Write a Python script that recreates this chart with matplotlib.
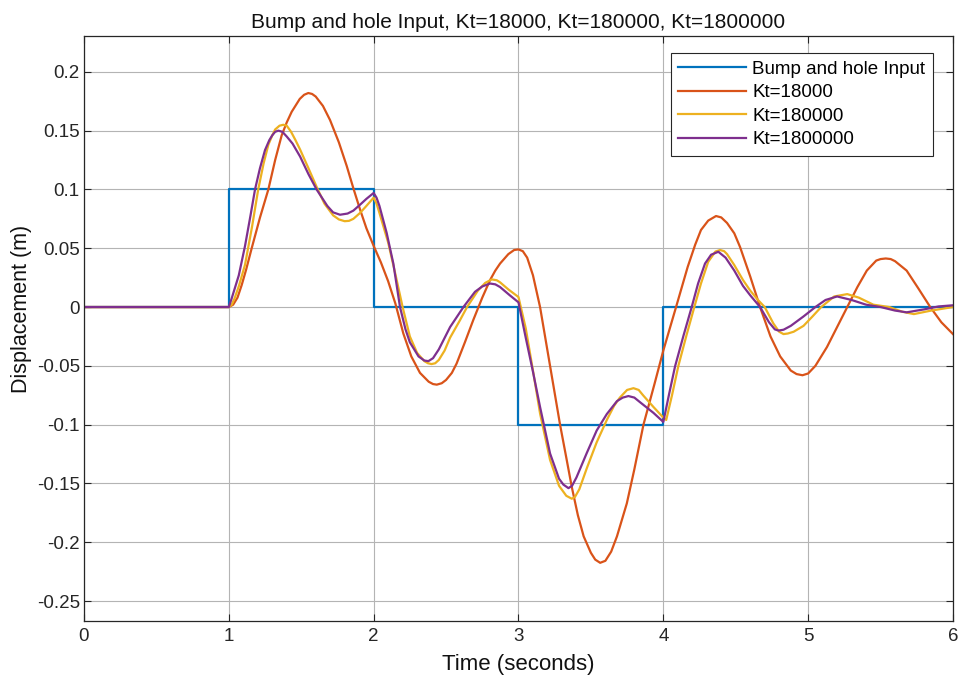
import matplotlib
matplotlib.use("Agg")
import matplotlib.pyplot as plt
from matplotlib.ticker import FuncFormatter

plt.rcParams['font.family'] = ['Liberation Sans', 'DejaVu Sans']
plt.rcParams['axes.unicode_minus'] = False

# bump and hole input
t_in = [0, 1, 1, 2, 2, 3, 3, 4, 4, 6]
y_in = [0, 0, 0.1, 0.1, 0, 0, -0.1, -0.1, 0, 0]

# Kt=18000 response
t_18k = [0.0, 1.0, 1.03, 1.06, 1.089, 1.12, 1.158, 1.215, 1.273, 1.32, 1.365,
         1.40, 1.434, 1.49, 1.52, 1.549, 1.575, 1.60, 1.65, 1.699, 1.76, 1.814,
         1.86, 1.906, 1.95, 2.0, 2.05, 2.1, 2.15, 2.205, 2.26, 2.32, 2.38,
         2.41, 2.436, 2.47, 2.5, 2.54, 2.573, 2.63, 2.688, 2.75, 2.804, 2.84,
         2.873, 2.93, 2.97, 3.0, 3.03, 3.06, 3.1, 3.149, 3.218, 3.287, 3.33,
         3.368, 3.41, 3.45, 3.5, 3.53, 3.564, 3.6, 3.64, 3.68, 3.748, 3.8,
         3.863, 3.94, 4.0, 4.088, 4.168, 4.22, 4.26, 4.31, 4.364, 4.40, 4.44,
         4.49, 4.53, 4.6, 4.668, 4.74, 4.807, 4.88, 4.92, 4.961, 5.0, 5.05,
         5.13, 5.2, 5.27, 5.34, 5.405, 5.47, 5.5, 5.536, 5.57, 5.6, 5.68,
         5.76, 5.843, 5.92, 6.0]
y_18k = [0.0, 0.0, 0.002, 0.008, 0.0187, 0.032, 0.05, 0.076, 0.1, 0.125, 0.146,
         0.157, 0.166, 0.177, 0.1805, 0.182, 0.1812, 0.179, 0.171, 0.159, 0.14, 0.12,
         0.101, 0.083, 0.067, 0.052, 0.038, 0.022, 0.003, -0.0225, -0.042, -0.056, -0.0635,
         -0.0655, -0.066, -0.0648, -0.062, -0.056, -0.048, -0.03, -0.011, 0.008, 0.023, 0.031,
         0.037, 0.045, 0.0485, 0.049, 0.0475, 0.042, 0.027, 0.0, -0.05, -0.1, -0.128,
         -0.153, -0.177, -0.195, -0.209, -0.2148, -0.2175, -0.2158, -0.208, -0.195, -0.167, -0.138,
         -0.1, -0.065, -0.037, 0.0, 0.034, 0.053, 0.0655, 0.0735, 0.0774, 0.0762, 0.0715,
         0.0627, 0.051, 0.026, 0.0, -0.025, -0.042, -0.054, -0.057, -0.058, -0.0565, -0.05,
         -0.034, -0.017, 0.0, 0.017, 0.031, 0.0395, 0.0408, 0.0413, 0.0408, 0.039, 0.031,
         0.016, 0.0, -0.013, -0.023]

# Kt=180000 response
t_180k = [0.0, 1.0, 1.02, 1.04, 1.07, 1.112, 1.16, 1.203, 1.24, 1.273, 1.30,
          1.32, 1.35, 1.376, 1.40, 1.43, 1.46, 1.492, 1.55, 1.607, 1.66, 1.72,
          1.76, 1.8, 1.83, 1.86, 1.906, 1.95, 2.0, 2.02, 2.04, 2.1, 2.15,
          2.2, 2.25, 2.3, 2.35, 2.375, 2.40, 2.425, 2.45, 2.49, 2.528, 2.597,
          2.645, 2.72, 2.77, 2.815, 2.85, 2.873, 2.93, 3.0, 3.05, 3.1, 3.149,
          3.218, 3.28, 3.33, 3.368, 3.39, 3.42, 3.472, 3.54, 3.61, 3.66, 3.7,
          3.75, 3.794, 3.83, 3.86, 3.932, 4.0, 4.02, 4.06, 4.104, 4.16, 4.214,
          4.26, 4.31, 4.36, 4.392, 4.42, 4.44, 4.49, 4.55, 4.6, 4.65, 4.70,
          4.76, 4.8, 4.83, 4.86, 4.9, 4.968, 5.03, 5.09, 5.18, 5.27, 5.35,
          5.45, 5.56, 5.65, 5.73, 5.85, 6.0]
y_180k = [0.0, 0.0, 0.002, 0.0074, 0.018, 0.036, 0.068, 0.1, 0.122, 0.138, 0.146,
          0.151, 0.1542, 0.155, 0.1542, 0.149, 0.142, 0.134, 0.118, 0.102, 0.088, 0.078,
          0.0745, 0.073, 0.0733, 0.075, 0.08, 0.086, 0.093, 0.088, 0.08, 0.055, 0.028,
          0.0, -0.025, -0.039, -0.046, -0.0478, -0.0485, -0.0478, -0.045, -0.037, -0.026, -0.011,
          0.0, 0.014, 0.0205, 0.0235, 0.0228, 0.021, 0.015, 0.0085, -0.018, -0.054, -0.0905,
          -0.13, -0.152, -0.1605, -0.163, -0.1615, -0.155, -0.137, -0.115, -0.096, -0.084, -0.077,
          -0.0705, -0.069, -0.0705, -0.075, -0.085, -0.094, -0.096, -0.075, -0.05, -0.024, 0.0,
          0.02, 0.0385, 0.0472, 0.0485, 0.0475, 0.045, 0.0357, 0.023, 0.014, 0.0065, 0.0,
          -0.014, -0.021, -0.023, -0.0225, -0.021, -0.016, -0.008, 0.0, 0.009, 0.011, 0.008,
          0.002, 0.0, -0.004, -0.006, -0.003, 0.0]

# Kt=1800000 response
t_1800k = [0.0, 1.0, 1.02, 1.069, 1.112, 1.15, 1.181, 1.215, 1.25, 1.28, 1.3,
           1.32, 1.342, 1.37, 1.40, 1.44, 1.492, 1.55, 1.607, 1.68, 1.72, 1.768,
           1.82, 1.86, 1.906, 1.95, 2.0, 2.02, 2.04, 2.09, 2.136, 2.182, 2.22,
           2.25, 2.31, 2.35, 2.378, 2.41, 2.45, 2.528, 2.62, 2.7, 2.75, 2.804,
           2.84, 2.873, 2.94, 3.0, 3.05, 3.1, 3.149, 3.218, 3.28, 3.31, 3.345,
           3.37, 3.4, 3.472, 3.54, 3.61, 3.68, 3.72, 3.759, 3.8, 3.84, 3.932,
           4.0, 4.04, 4.081, 4.14, 4.196, 4.24, 4.288, 4.33, 4.38, 4.43, 4.49,
           4.55, 4.6, 4.668, 4.73, 4.77, 4.795, 4.83, 4.88, 4.968, 5.05, 5.12,
           5.2, 5.3, 5.4, 5.5, 5.6, 5.68, 5.8, 5.9, 6.0]
y_1800k = [0.0, 0.0, 0.0074, 0.027, 0.052, 0.078, 0.1, 0.118, 0.1335, 0.142, 0.146,
           0.149, 0.15, 0.149, 0.145, 0.139, 0.128, 0.113, 0.0998, 0.086, 0.0805, 0.0785,
           0.0795, 0.082, 0.087, 0.092, 0.097, 0.093, 0.086, 0.063, 0.037, 0.0, -0.019,
           -0.03, -0.042, -0.0455, -0.046, -0.0435, -0.036, -0.017, 0.0, 0.013, 0.0175, 0.02,
           0.0193, 0.017, 0.01, 0.004, -0.026, -0.055, -0.085, -0.1245, -0.146, -0.151, -0.154,
           -0.152, -0.145, -0.124, -0.105, -0.091, -0.08, -0.077, -0.0757, -0.077, -0.081, -0.09,
           -0.0977, -0.074, -0.0505, -0.024, 0.0, 0.02, 0.037, 0.0445, 0.047, 0.042, 0.031,
           0.018, 0.01, 0.0, -0.013, -0.019, -0.02, -0.0193, -0.016, -0.008, 0.0, 0.006,
           0.009, 0.006, 0.002, 0.0, -0.003, -0.0045, -0.002, 0.0005, 0.0015]

labels = ['Bump and hole Input', 'Kt=18000', 'Kt=180000', 'Kt=1800000']
colors = ['#0072BD', '#D95319', '#EDB120', '#7E2F8E']

fig = plt.figure(figsize=(9.63, 6.79), dpi=100)
ax = fig.add_axes([0.0872, 0.0854, 0.9024, 0.8616])

series = [(t_in, y_in), (t_18k, y_18k), (t_180k, y_180k), (t_1800k, y_1800k)]
for (t, y), lab, c in zip(series, labels, colors):
    ax.plot(t, y, color=c, lw=1.6, label=lab, solid_joinstyle='round')

ax.set_xlim(0, 6)
ax.set_ylim(-0.267, 0.2305)
ax.set_xticks(range(7))
ax.set_yticks([-0.25, -0.2, -0.15, -0.1, -0.05, 0, 0.05, 0.1, 0.15, 0.2])
ax.yaxis.set_major_formatter(FuncFormatter(lambda v, p: '%g' % round(v, 2)))
ax.grid(True, color='#b4b4b4', lw=0.8)
ax.set_axisbelow(True)
ax.tick_params(direction='in', top=True, right=True, length=5, width=0.8,
               labelsize=13.5, colors='#262626')
ax.tick_params(axis='y', pad=3)
ax.tick_params(axis='x', pad=5)
for s in ax.spines.values():
    s.set_linewidth(0.9)
    s.set_color('#262626')

ax.set_title('Bump and hole Input, Kt=18000, Kt=180000, Kt=1800000',
             fontsize=15, color='#111111', pad=6)
ax.set_xlabel('Time (seconds)', fontsize=16, color='#111111')
ax.set_ylabel('Displacement (m)', fontsize=15.5, color='#111111')
ax.xaxis.set_label_coords(0.5, -0.056)
ax.yaxis.set_label_coords(-0.06, 0.534)

leg = ax.legend(loc='upper right', bbox_to_anchor=(0.977, 0.971), fontsize=13.5,
                fancybox=False, framealpha=1, edgecolor='#262626',
                handlelength=3.6, borderpad=0.4, borderaxespad=0,
                labelspacing=0.34, handletextpad=0.35)
leg.get_frame().set_linewidth(0.8)

fig.savefig('out.png', dpi=100)
